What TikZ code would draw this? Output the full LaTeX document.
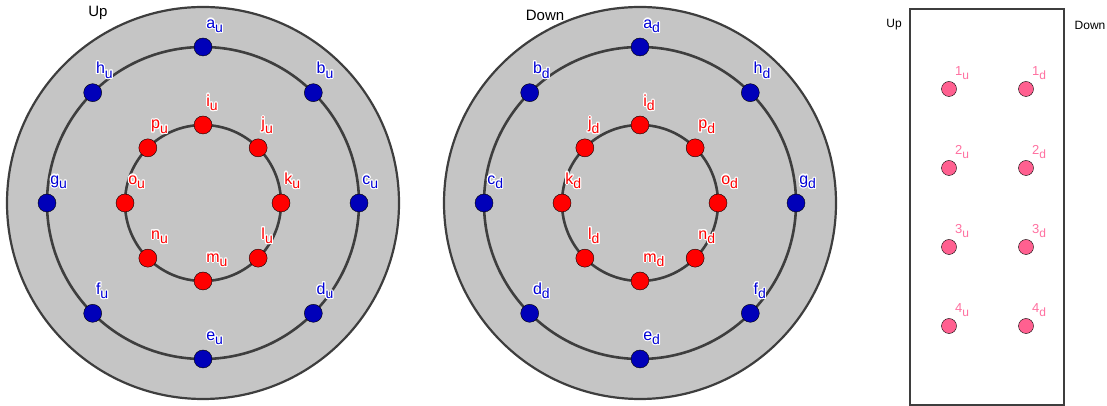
\documentclass[tikz,border=0pt]{standalone}
\usepackage{fontspec}
\setmainfont{Liberation Sans}
\usepackage{contour}
\contourlength{1.1pt}
\usetikzlibrary{positioning}
\definecolor{discgrey}{RGB}{197,197,197}
\definecolor{ringline}{RGB}{62,62,62}
\definecolor{dotblue}{RGB}{0,0,185}
\definecolor{txtblue}{RGB}{0,0,215}
\definecolor{dotred}{RGB}{255,0,0}
\definecolor{dotpink}{RGB}{255,96,144}
\definecolor{txtpink}{RGB}{255,112,160}
\newcommand{\tg}[2]{\contour{white}{#1\raisebox{-4.5pt}{\fontsize{14}{14}\selectfont #2}}}
\newcommand{\tgs}[2]{#1\raisebox{-4pt}{\fontsize{12}{12}\selectfont #2}}

\begin{document}
\begin{tikzpicture}[x=1pt,y=1pt,
		label distance=3pt,
		disc/.style={draw=ringline,line width=2.2pt,fill=discgrey},
		ring/.style={draw=ringline,line width=2.6pt},
		bluetext/.style={txtblue,inner sep=1pt,anchor=south west,font=\fontsize{16}{16}\selectfont},
		redtext/.style={red,inner sep=1pt,anchor=south west,font=\fontsize{16}{16}\selectfont},
		pinktext/.style={txtpink,inner sep=1pt,anchor=south west,font=\fontsize{13}{13}\selectfont},
		bluenode/.style={circle,draw=black,thin,fill=dotblue,minimum size=18pt,inner sep=0pt,
			label={[bluetext]80:#1}},
		rednode/.style={circle,draw=black,thin,fill=dotred,minimum size=18pt,inner sep=0pt,
			label={[redtext]80:#1}},
		pinknode/.style={circle,draw=black,thin,fill=dotpink,minimum size=15pt,inner sep=0pt,
			label={[pinktext,label distance=2pt]60:#1}},
		headtext/.style={inner sep=0pt,font=\fontsize{15}{15}\selectfont},
		sidetext/.style={inner sep=0pt,font=\fontsize{12}{12}\selectfont}]
		\useasboundingbox (0,0) rectangle (1107,406);
		
		% Up
		\begin{scope}[shift={(203,203)}]
			\draw[disc] (0,0) circle (196);
			\draw[ring] (0,0) circle (156);
			\draw[ring] (0,0) circle (78);
			\node[headtext] (up) at (-105,190) {Up};
			\node[bluenode={\tg{a}{u}}] (au) at (90:156) {};
			\node[bluenode={\tg{b}{u}}] (bu) at (45:156) {};
			\node[bluenode={\tg{c}{u}}] (cu) at (0:156) {};
			\node[bluenode={\tg{d}{u}}] (du) at (-45:156) {};
			\node[bluenode={\tg{e}{u}}] (eu) at (-90:156) {};
			\node[bluenode={\tg{f}{u}}] (fu) at (-135:156) {};
			\node[bluenode={\tg{g}{u}}] (gu) at (180:156) {};
			\node[bluenode={\tg{h}{u}}] (hu) at (135:156) {};
			\node[rednode={\tg{i}{u}}] (iu) at (90:78) {};
			\node[rednode={\tg{j}{u}}] (ju) at (45:78) {};
			\node[rednode={\tg{k}{u}}] (ku) at (0:78) {};
			\node[rednode={\tg{l}{u}}] (lu) at (-45:78) {};
			\node[rednode={\tg{m}{u}}] (mu) at (-90:78) {};
			\node[rednode={\tg{n}{u}}] (nu) at (-135:78) {};
			\node[rednode={\tg{o}{u}}] (ou) at (180:78) {};
			\node[rednode={\tg{p}{u}}] (pu) at (135:78) {};
		\end{scope}
		
		% Down
		\begin{scope}[shift={(640,203)}]
			\draw[disc] (0,0) circle (196);
			\draw[ring] (0,0) circle (156);
			\draw[ring] (0,0) circle (78);
			\node[headtext] (down) at (-95,188) {Down};
			\node[bluenode={\tg{a}{d}}] (ad) at (90:156) {};
			\node[bluenode={\tg{h}{d}}] (hd) at (45:156) {};
			\node[bluenode={\tg{g}{d}}] (gd) at (0:156) {};
			\node[bluenode={\tg{f}{d}}] (fd) at (-45:156) {};
			\node[bluenode={\tg{e}{d}}] (ed) at (-90:156) {};
			\node[bluenode={\tg{d}{d}}] (dd) at (-135:156) {};
			\node[bluenode={\tg{c}{d}}] (cd) at (180:156) {};
			\node[bluenode={\tg{b}{d}}] (bd) at (135:156) {};
			\node[rednode={\tg{i}{d}}] (id) at (90:78) {};
			\node[rednode={\tg{p}{d}}] (pd) at (45:78) {};
			\node[rednode={\tg{o}{d}}] (od) at (0:78) {};
			\node[rednode={\tg{n}{d}}] (nd) at (-45:78) {};
			\node[rednode={\tg{m}{d}}] (md) at (-90:78) {};
			\node[rednode={\tg{l}{d}}] (ld) at (-135:78) {};
			\node[rednode={\tg{k}{d}}] (kd) at (180:78) {};
			\node[rednode={\tg{j}{d}}] (jd) at (135:78) {};
		\end{scope}
		
		% stack
		\draw[draw=ringline,line width=1.6pt] (910,1) rectangle (1064,397);
		\node[sidetext] (sup) at (894,381) {Up};
		\node[sidetext] (sdown) at (1090,381) {Down};
		\node[pinknode={\tgs{1}{u}}] (1u) at (949,317) {};
		\node[pinknode={\tgs{2}{u}}] (2u) at (949,238) {};
		\node[pinknode={\tgs{3}{u}}] (3u) at (949,159) {};
		\node[pinknode={\tgs{4}{u}}] (4u) at (949,80) {};
		\node[pinknode={\tgs{1}{d}}] (1d) at (1026,317) {};
		\node[pinknode={\tgs{2}{d}}] (2d) at (1026,238) {};
		\node[pinknode={\tgs{3}{d}}] (3d) at (1026,159) {};
		\node[pinknode={\tgs{4}{d}}] (4d) at (1026,80) {};
	\end{tikzpicture}
\end{document}
